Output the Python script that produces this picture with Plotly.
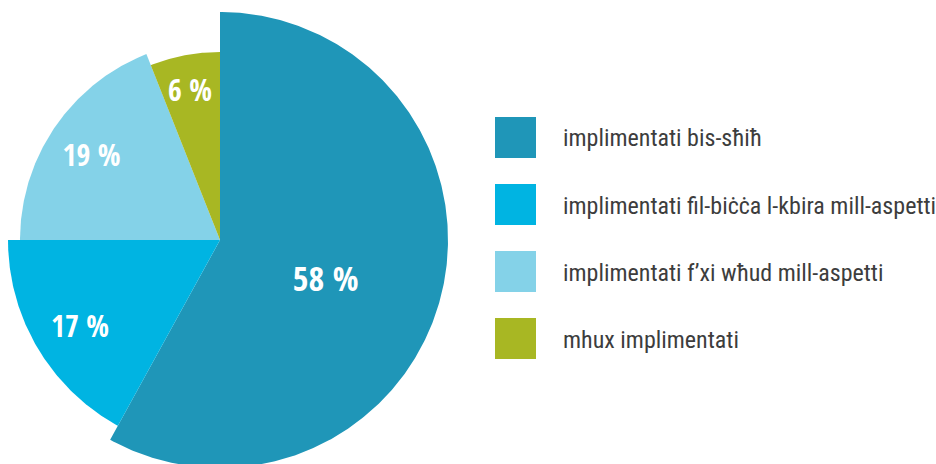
import numpy as np
import plotly.graph_objects as go

# ---- data ----
categories = [
    "implimentati bis-sħiħ",
    "implimentati fil-biċċa l-kbira mill-aspetti",
    "implimentati f’xi wħud mill-aspetti",
    "mhux implimentati",
]
shares = [58, 17, 19, 6]
slice_radius = [228, 212, 200, 188]
label_r = [114, 166, 152, 150]
label_theta = [112, 237.5, 302.3, 348.5]
colors = ["#1f96b8", "#00b4e2", "#84d2e8", "#a8b723"]
label_sizes = [34, 30, 30, 30]

W, H = 936, 464
CX, CY = 220, 240  # pie centre in px from top-left

LEG_FONT = "Roboto Condensed, DejaVu Sans Condensed, sans-serif"
LAB_FONT = "Open Sans Condensed, Roboto Condensed, sans-serif"


def to_xy(r, theta_deg):
    """clockwise-from-north polar -> cartesian data coordinates"""
    t = np.radians(theta_deg)
    return np.asarray(r) * np.sin(t), np.asarray(r) * np.cos(t)


fig = go.Figure()

start = 0.0
for share, rad, col in zip(shares, slice_radius, colors):
    width = share * 3.6
    arc = np.linspace(start, start + width, int(width * 2) + 2)
    ax, ay = to_xy(rad, arc)
    x = np.concatenate([[0], ax, [0]])
    y = np.concatenate([[0], ay, [0]])
    fig.add_trace(go.Scatter(
        x=x, y=y, mode="lines", fill="toself",
        fillcolor=col, line=dict(width=0, color=col),
        showlegend=False, hoverinfo="skip",
    ))
    start += width

lx, ly = to_xy(label_r, label_theta)
fig.add_trace(go.Scatter(
    x=lx, y=ly, mode="text",
    text=[f"<b>{s} %</b>" for s in shares],
    textfont=dict(family=LAB_FONT, size=label_sizes, color="white"),
    showlegend=False, hoverinfo="skip", cliponaxis=False,
))

fig.update_layout(
    width=W, height=H,
    margin=dict(l=0, r=0, t=0, b=0),
    paper_bgcolor="white", plot_bgcolor="white",
    xaxis=dict(range=[-CX, W - CX], visible=False, fixedrange=True),
    yaxis=dict(range=[-(H - CY), CY], visible=False, fixedrange=True),
)

# manual legend
box_x0, box_x1 = 495, 536
row_top0, row_step, box_h = 117, 67, 41
text_x = 561
for i, (cat, col) in enumerate(zip(categories, colors)):
    top = row_top0 + i * row_step
    fig.add_shape(type="rect", xref="paper", yref="paper",
                  x0=box_x0 / W, x1=box_x1 / W,
                  y0=1 - (top + box_h) / H, y1=1 - top / H,
                  fillcolor=col, line=dict(width=0), layer="above")
    fig.add_annotation(xref="paper", yref="paper",
                       x=text_x / W, y=1 - (top + box_h / 2 + 1) / H,
                       xanchor="left", yanchor="middle", showarrow=False,
                       text=cat, font=dict(family=LEG_FONT, size=24, color="#3d3d3d"))

fig.write_html("out.html")
